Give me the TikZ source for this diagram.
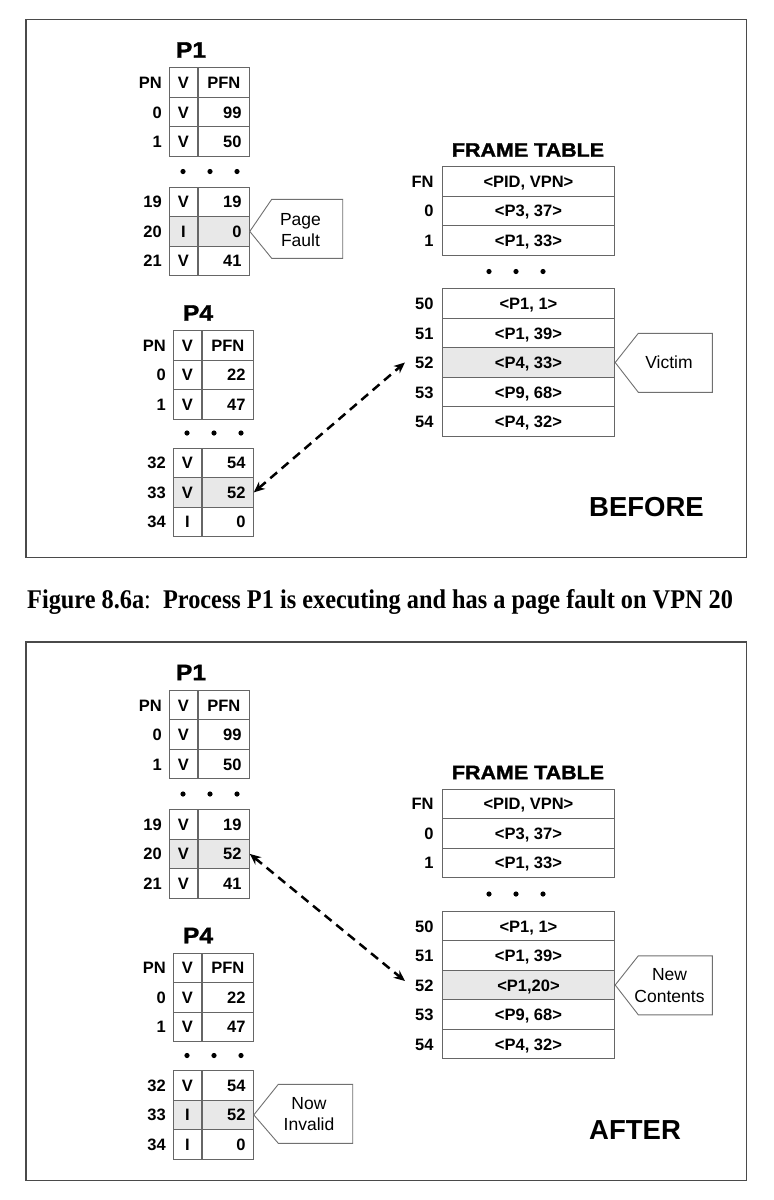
\documentclass[tikz,border=0pt]{standalone}
\usepackage{fontspec}
\setmainfont{Liberation Sans}
\newfontfamily\heavyfont{Liberation Sans}[FakeBold=1.5,FakeStretch=1.1]
\newfontfamily\capfont{Liberation Serif}[FakeStretch=0.9]
\usetikzlibrary{arrows.meta}
\definecolor{linegray}{HTML}{666666}
\definecolor{framegray}{HTML}{4A4A4A}
\definecolor{cellfill}{HTML}{E8E8E8}
\definecolor{callgray}{HTML}{707070}
\newcommand\tabfont{\bfseries\fontsize{16.5}{19}\selectfont}
\newcommand\calfont{\fontsize{17.5}{21.5}\selectfont}
\newcommand\titfont{\heavyfont\bfseries\fontsize{22.5}{25}\selectfont}
\newcommand\fttitfont{\heavyfont\bfseries\fontsize{19.5}{22}\selectfont}
\newcommand\bigfont{\bfseries\fontsize{27.5}{30}\selectfont}
\tikzset{
 cellbase/.style={draw=linegray, line width=0.9pt, minimum height=29.5pt, inner sep=0pt, text height=12pt, text depth=0pt, font=\tabfont, anchor=north west},
 cellv/.style={cellbase, minimum width=28pt},
 cellf/.style={cellbase, minimum width=51pt},
 cellt/.style={cellbase, minimum width=172.6pt},
 tabtxt/.style={inner sep=0pt, text height=12pt, text depth=0pt, font=\tabfont},
 callout/.style={draw=callgray, line width=0.9pt, fill=white, line join=miter},
 calltxt/.style={align=center, font=\calfont, inner sep=0pt},
 ptrarrow/.style={line width=2.5pt, dash pattern=on 9pt off 6pt, arrows={Stealth[length=11pt,width=9.5pt]-Stealth[length=11pt,width=9.5pt]}},
 boxframe/.style={draw=framegray, line width=1.2pt}
}
\newcommand\ptrow[7]{%
 \node[cellv, fill=#7] (#1v) at (#2,#3) {#5};
 \node[cellf, fill=#7] (#1f) at (#1v.north east) {};
 \node[tabtxt, anchor=east] (#1x) at ([xshift=-8pt]#1f.east) {#6};
 \node[tabtxt, anchor=east] (#1n) at ([xshift=-7pt]#1v.west) {#4};
}
\newcommand\pthead[3]{%
 \node[cellv] (#1v) at (#2,#3) {V};
 \node[cellf] (#1f) at (#1v.north east) {PFN};
 \node[tabtxt, anchor=east] (#1n) at ([xshift=-7pt]#1v.west) {PN};
}
\newcommand\ftrow[5]{%
 \node[cellt, fill=#5] (#1) at (441.7,#2) {#4};
 \node[tabtxt, anchor=east] (#1n) at ([xshift=-8pt]#1.west) {#3};
}
\newcommand\tridots[4]{%
 \fill (#1,#4) circle (2.6pt);
 \fill (#2,#4) circle (2.6pt);
 \fill (#3,#4) circle (2.6pt);
}
\begin{document}
\begin{tikzpicture}[x=1pt,y=-1pt]
\fill[white] (0,0) rectangle (774,1200);
\useasboundingbox (0,0) rectangle (774,1200);
% ================= BEFORE =================
\draw[boxframe] (26,19.5) rectangle (746.7,557.7);
\node[font=\titfont] (a1t) at (191,50) {P1};
\pthead{a1h}{169}{67.3}
\ptrow{a1r0}{169}{96.8}{0}{V}{99}{white}
\ptrow{a1r1}{169}{126.3}{1}{V}{50}{white}
\tridots{183}{210}{237}{171.5}
\ptrow{a1r19}{169}{186.7}{19}{V}{19}{white}
\ptrow{a1r20}{169}{216.2}{20}{I}{0}{cellfill}
\ptrow{a1r21}{169}{245.7}{21}{V}{41}{white}
\draw[callout] (a1r20f.east) -- (271.7,199.3) -- (342.7,199.3) -- (342.7,258.3) -- (271.7,258.3) -- cycle;
\node[calltxt] (a1pf) at (300.5,230) {Page\\Fault};
\node[font=\titfont] (a4t) at (198,313) {P4};
\pthead{a4h}{173}{330}
\ptrow{a4r0}{173}{359.5}{0}{V}{22}{white}
\ptrow{a4r1}{173}{389}{1}{V}{47}{white}
\tridots{187}{214}{241}{433}
\ptrow{a4r32}{173}{447.7}{32}{V}{54}{white}
\ptrow{a4r33}{173}{477.2}{33}{V}{52}{cellfill}
\ptrow{a4r34}{173}{506.7}{34}{I}{0}{white}
\node[font=\fttitfont] (aftt) at (528,150) {FRAME TABLE};
\ftrow{afh}{166}{FN}{<PID, VPN>}{white}
\ftrow{af0}{195.5}{0}{<P3, 37>}{white}
\ftrow{af1}{225}{1}{<P1, 33>}{white}
\tridots{489}{516}{543}{271.5}
\ftrow{af50}{288.3}{50}{<P1, 1>}{white}
\ftrow{af51}{317.8}{51}{<P1, 39>}{white}
\ftrow{af52}{347.3}{52}{<P4, 33>}{cellfill}
\ftrow{af53}{376.8}{53}{<P9, 68>}{white}
\ftrow{af54}{406.3}{54}{<P4, 32>}{white}
\draw[callout] (af52.east) -- (638.3,333.3) -- (712.3,333.3) -- (712.3,392.3) -- (638.3,392.3) -- cycle;
\node[calltxt] (avic) at (669,362.5) {Victim};
\node[font=\bigfont, anchor=west, inner sep=0pt] (abef) at (589,507) {BEFORE};
\draw[ptrarrow] (a4r33f.east) -- ([xshift=-10pt]af52n.west);
% ================= caption =================
\node[anchor=west, inner sep=0pt, font=\capfont\fontsize{27}{30}\selectfont] (cap) at (27,601.5) {{\bfseries Figure 8.6a}:{\bfseries\ \ Process P1 is executing and has a page fault on VPN 20}};
% ================= AFTER =================
\begin{scope}[yshift=-622.5pt]
\draw[boxframe] (26,19.5) rectangle (746.7,557.7);
\node[font=\titfont] (b1t) at (191,50) {P1};
\pthead{b1h}{169}{67.3}
\ptrow{b1r0}{169}{96.8}{0}{V}{99}{white}
\ptrow{b1r1}{169}{126.3}{1}{V}{50}{white}
\tridots{183}{210}{237}{171.5}
\ptrow{b1r19}{169}{186.7}{19}{V}{19}{white}
\ptrow{b1r20}{169}{216.2}{20}{V}{52}{cellfill}
\ptrow{b1r21}{169}{245.7}{21}{V}{41}{white}
\node[font=\titfont] (b4t) at (198,313) {P4};
\pthead{b4h}{173}{330}
\ptrow{b4r0}{173}{359.5}{0}{V}{22}{white}
\ptrow{b4r1}{173}{389}{1}{V}{47}{white}
\tridots{187}{214}{241}{433}
\ptrow{b4r32}{173}{447.7}{32}{V}{54}{white}
\ptrow{b4r33}{173}{477.2}{33}{I}{52}{cellfill}
\ptrow{b4r34}{173}{506.7}{34}{I}{0}{white}
\draw[callout] (b4r33f.east) -- (278.3,461.8) -- (352.7,461.8) -- (352.7,520.8) -- (278.3,520.8) -- cycle;
\node[calltxt] (bni) at (309,491.5) {Now\\Invalid};
\node[font=\fttitfont] (bftt) at (528,150) {FRAME TABLE};
\ftrow{bfh}{166}{FN}{<PID, VPN>}{white}
\ftrow{bf0}{195.5}{0}{<P3, 37>}{white}
\ftrow{bf1}{225}{1}{<P1, 33>}{white}
\tridots{489}{516}{543}{271.5}
\ftrow{bf50}{288.3}{50}{<P1, 1>}{white}
\ftrow{bf51}{317.8}{51}{<P1, 39>}{white}
\ftrow{bf52}{347.3}{52}{<P1,20>}{cellfill}
\ftrow{bf53}{376.8}{53}{<P9, 68>}{white}
\ftrow{bf54}{406.3}{54}{<P4, 32>}{white}
\draw[callout] (bf52.east) -- (638.3,333.3) -- (712.3,333.3) -- (712.3,392.3) -- (638.3,392.3) -- cycle;
\node[calltxt] (bnc) at (669.5,363) {New\\Contents};
\node[font=\bigfont, anchor=west, inner sep=0pt] (baft) at (589,507.5) {AFTER};
\draw[ptrarrow] (b1r20f.east) -- ([xshift=-10pt,yshift=4pt]bf52n.west);
\end{scope}
\end{tikzpicture}
\end{document}
